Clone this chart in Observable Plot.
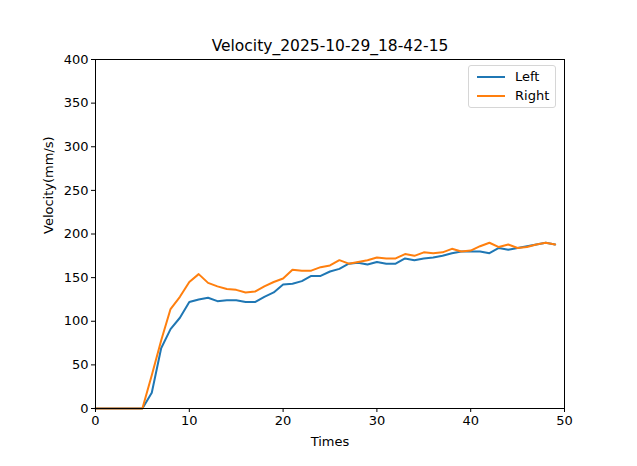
<!DOCTYPE html>
<html>
<head>
<meta charset="utf-8">
<script src="https://cdn.jsdelivr.net/npm/d3@7"></script>
<script src="https://cdn.jsdelivr.net/npm/@observablehq/plot@0.6"></script>
<style>
  html, body { margin: 0; padding: 0; background: #fff; }
  #wrap { position: relative; width: 637px; height: 466px; font-family: "DejaVu Sans", sans-serif; }
  #legend { position: absolute; left: 468px; top: 65px; width: 86px; height: 41px; border: 1px solid #d6d6d6; border-radius: 3px; background: rgba(255,255,255,0.8); font-size: 13px; color: #000; }
  .item { position: absolute; left: 8px; display: flex; align-items: center; }
  .item span.sw { display: inline-block; width: 28px; height: 2px; margin-right: 10px; }
</style>
</head>
<body>
<div id="wrap"></div>
<script>
const title = "Velocity_2025-10-29_18-42-15";
const xLabel = "Times";
const yLabel = "Velocity(mm/s)";
const seriesNames = ["Left", "Right"];
const seriesColors = ["#1f77b4", "#ff7f0e"];
const times = [0,1,2,3,4,5,6,7,8,9,10,11,12,13,14,15,16,17,18,19,20,21,22,23,24,25,26,27,28,29,30,31,32,33,34,35,36,37,38,39,40,41,42,43,44,45,46,47,48,49];
const leftVel = [0,0,0,0,0,0,18,69,91,104,122,125,127,123,124,124,122,122,128,133,142,143,146,152,152,157,160,166,167,165,168,166,166,172,170,172,173,175,178,180,180,180,178,184,182,184,186,188,190,188];
const rightVel = [0,0,0,0,0,0,38,78,114,128,145,154,144,140,137,136,133,134,140,145,149,159,158,158,162,164,170,166,168,170,173,172,172,177,175,179,178,179,183,180,181,186,190,185,188,184,185,188,190,188];
const xTicks = [0,10,20,30,40,50];
const yTicks = [0,50,100,150,200,250,300,350,400];

const data = [];
times.forEach((t, i) => {
  data.push({t, v: leftVel[i], s: seriesNames[0]});
  data.push({t, v: rightVel[i], s: seriesNames[1]});
});

const chart = Plot.plot({
  width: 637,
  height: 466,
  marginLeft: 95,
  marginRight: 73,
  marginTop: 59,
  marginBottom: 58,
  style: { fontFamily: "DejaVu Sans, sans-serif", fontSize: "13px", color: "#000", background: "#fff" },
  x: { domain: [0, 50], ticks: xTicks, tickSize: 4, tickPadding: 3, label: null },
  y: { domain: [0, 400], ticks: yTicks, tickSize: 4, tickPadding: 3, label: null },
  color: { domain: seriesNames, range: seriesColors },
  marks: [
    Plot.line(data, { x: "t", y: "v", stroke: "s", z: "s", strokeWidth: 2 }),
    Plot.frame({ stroke: "#000", strokeWidth: 1 }),
    Plot.axisX({ ticks: xTicks, tickSize: 4, tickPadding: 3, label: null, fontSize: 13 }),
    Plot.axisY({ ticks: yTicks, tickSize: 4, tickPadding: 3, label: null, fontSize: 13 }),
    Plot.text([title], { frameAnchor: "top", dy: -9, fontSize: 15.5, text: d => d, lineAnchor: "bottom" }),
    Plot.text([xLabel], { frameAnchor: "bottom", dy: 37, fontSize: 13, text: d => d }),
    Plot.text([yLabel], { frameAnchor: "left", dx: -47, rotate: -90, fontSize: 13, text: d => d })
  ]
});
document.getElementById("wrap").appendChild(chart);

const legend = document.createElement("div");
legend.id = "legend";
seriesNames.forEach((name, i) => {
  const item = document.createElement("div");
  item.className = "item";
  item.style.top = (3 + i * 19) + "px";
  const sw = document.createElement("span");
  sw.className = "sw";
  sw.style.background = seriesColors[i];
  const lab = document.createElement("span");
  lab.textContent = name;
  item.appendChild(sw);
  item.appendChild(lab);
  legend.appendChild(item);
});
document.getElementById("wrap").appendChild(legend);
</script>
</body>
</html>
